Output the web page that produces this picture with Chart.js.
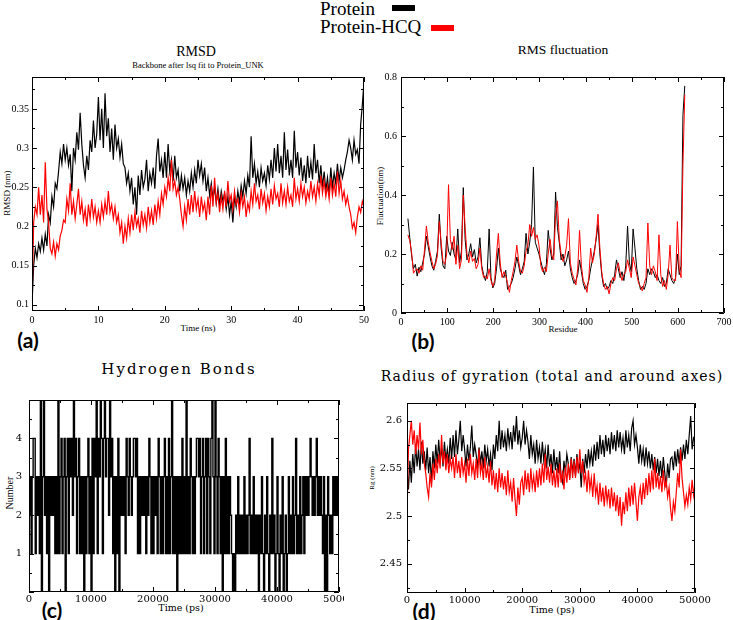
<!DOCTYPE html>
<html>
<head>
<meta charset="utf-8">
<script src="https://cdn.jsdelivr.net/npm/chart.js@4.4.1/dist/chart.umd.min.js"></script>
<style>
body { margin: 0; background: #fff; }
#page { position: relative; width: 733px; height: 620px; overflow: hidden; font-family: "Liberation Serif", serif; color: #000; }
.t { position: absolute; white-space: nowrap; line-height: 1; }
.c { transform: translate(-50%, -50%); }
.r { transform: translate(-50%, -50%) rotate(-90deg); }
.lab { font-family: Lato, sans-serif; font-weight: bold; font-size: 21px; }
canvas { position: absolute; }
</style>
</head>
<body>
<div id="page">
  <div class="t" style="left:320px;top:-1px;font-size:19px">Protein</div>
  <div class="t" style="left:320px;top:17px;font-size:19px">Protein-HCQ</div>
  <div style="position:absolute;left:392px;top:5px;width:23px;height:6px;background:#000"></div>
  <div style="position:absolute;left:431px;top:25px;width:23px;height:6px;background:#f00"></div>

  <div class="t c" style="left:196px;top:52px;font-size:14px">RMSD</div>
  <div class="t c" style="left:198px;top:65px;font-size:8.5px">Backbone after lsq fit to Protein_UNK</div>
  <div class="t c" style="left:198px;top:328px;font-size:9px">Time (ns)</div>
  <div class="t r" style="left:7px;top:193px;font-size:9px">RMSD (nm)</div>

  <div class="t c" style="left:563px;top:50px;font-size:13.5px">RMS fluctuation</div>
  <div class="t c" style="left:563px;top:329px;font-size:9px">Residue</div>
  <div class="t r" style="left:380px;top:196px;font-size:9px">Fluctuation(nm)</div>

  <div class="t c" style="left:179px;top:369px;font-size:15px;font-family:'DejaVu Serif',serif;letter-spacing:2px">Hydrogen Bonds</div>
  <div class="t c" style="left:181px;top:608px;font-size:9.5px;font-family:'DejaVu Serif',serif">Time (ps)</div>
  <div class="t r" style="left:10px;top:493px;font-size:10px">Number</div>

  <div class="t c" style="left:552px;top:376px;font-size:14px;font-family:'DejaVu Serif',serif;letter-spacing:1px">Radius of gyration (total and around axes)</div>
  <div class="t c" style="left:552px;top:610px;font-size:9.5px;font-family:'DejaVu Serif',serif">Time (ps)</div>
  <div class="t r" style="left:372px;top:478px;font-size:7px">Rg (nm)</div>

  <div class="t c lab" style="left:28px;top:339px">(a)</div>
  <div class="t c lab" style="left:423px;top:340px">(b)</div>
  <div class="t c lab" style="left:52px;top:609px">(c)</div>
  <div class="t c lab" style="left:424px;top:610px">(d)</div>
</div>
<script>
// (a) RMSD, one value every 0.25 ns
const rmsdStep = 0.25;
const rmsdProtein = [0.100,0.150,0.172,0.160, 0.178,0.168,0.185,0.170, 0.190,0.175,0.215,0.205, 0.238,0.225,0.255,0.248,
  0.270,0.295,0.280,0.305, 0.285,0.300,0.278,0.292, 0.245,0.300,0.285,0.320, 0.298,0.345,0.305,0.278,
  0.262,0.290,0.272,0.310, 0.295,0.335,0.300,0.318, 0.365,0.310,0.350,0.300, 0.370,0.315,0.338,0.295,
  0.325,0.285,0.330,0.300, 0.312,0.288,0.305,0.280, 0.275,0.255,0.268,0.245, 0.262,0.228,0.250,0.215,
  0.265,0.240,0.272,0.250, 0.260,0.285,0.245,0.268, 0.255,0.275,0.248,0.290, 0.312,0.270,0.285,0.262,
  0.295,0.262,0.305,0.270, 0.285,0.258,0.290,0.262, 0.272,0.245,0.265,0.248, 0.262,0.240,0.258,0.245,
  0.268,0.250,0.272,0.255, 0.285,0.265,0.280,0.258, 0.275,0.245,0.262,0.240, 0.255,0.235,0.250,0.230,
  0.248,0.228,0.245,0.232, 0.242,0.222,0.238,0.215, 0.232,0.205,0.238,0.225, 0.245,0.230,0.252,0.238,
  0.258,0.242,0.265,0.250, 0.315,0.262,0.280,0.255, 0.270,0.250,0.275,0.258, 0.268,0.252,0.278,0.260,
  0.285,0.262,0.300,0.270, 0.305,0.268,0.290,0.262, 0.320,0.272,0.298,0.265, 0.285,0.262,0.322,0.275,
  0.295,0.265,0.288,0.258, 0.278,0.255,0.290,0.262, 0.282,0.260,0.305,0.268, 0.285,0.255,0.278,0.250,
  0.270,0.245,0.262,0.240, 0.275,0.250,0.268,0.255, 0.280,0.258,0.275,0.262, 0.272,0.285,0.295,0.310,
  0.300,0.285,0.310,0.292, 0.298,0.280,0.330,0.355, 0.385];
const rmsdHCQ = [0.100,0.205,0.225,0.215, 0.250,0.215,0.240,0.205, 0.282,0.222,0.205,0.172, 0.165,0.180,0.162,0.178,
  0.170,0.188,0.195,0.208, 0.205,0.235,0.220,0.255, 0.215,0.232,0.210,0.228, 0.248,0.215,0.232,0.208,
  0.222,0.200,0.228,0.210, 0.235,0.212,0.225,0.205, 0.220,0.205,0.228,0.212, 0.232,0.215,0.245,0.218,
  0.228,0.210,0.225,0.205, 0.215,0.192,0.205,0.178, 0.200,0.185,0.210,0.192, 0.215,0.195,0.218,0.200,
  0.210,0.192,0.220,0.202, 0.215,0.198,0.225,0.205, 0.220,0.202,0.228,0.210, 0.232,0.215,0.242,0.228,
  0.250,0.238,0.262,0.245, 0.285,0.248,0.258,0.240, 0.250,0.235,0.215,0.200, 0.225,0.208,0.235,0.215,
  0.240,0.218,0.245,0.222, 0.235,0.212,0.238,0.220, 0.230,0.208,0.238,0.215, 0.252,0.225,0.262,0.230,
  0.242,0.218,0.238,0.222, 0.245,0.225,0.258,0.232, 0.240,0.222,0.245,0.228, 0.235,0.218,0.242,0.225,
  0.238,0.212,0.230,0.220, 0.245,0.228,0.255,0.232, 0.240,0.222,0.248,0.230, 0.242,0.220,0.238,0.225,
  0.248,0.228,0.252,0.235, 0.242,0.225,0.255,0.230, 0.245,0.228,0.250,0.232, 0.240,0.225,0.262,0.235,
  0.248,0.232,0.255,0.238, 0.250,0.230,0.245,0.235, 0.258,0.238,0.250,0.232, 0.255,0.240,0.265,0.242,
  0.258,0.238,0.252,0.235, 0.262,0.240,0.255,0.238, 0.270,0.242,0.258,0.235, 0.245,0.228,0.238,0.225,
  0.215,0.198,0.205,0.192, 0.212,0.225,0.218,0.232, 0.225];

// (b) RMS fluctuation, residue 15 onwards every 4 residues
const rmsfStart = 15, rmsfStep = 4;
const rmsfProtein = [0.320,0.255,0.195,0.150,0.165,0.125,0.155,0.140,0.170,0.200,
  0.260,0.225,0.190,0.160,0.145,0.175,0.210,0.335,0.220,0.160,
  0.150,0.260,0.210,0.195,0.240,0.200,0.180,0.285,0.170,0.210,
  0.425,0.250,0.180,0.200,0.235,0.190,0.215,0.170,0.190,0.255,
  0.160,0.130,0.110,0.140,0.285,0.120,0.085,0.100,0.150,0.220,
  0.150,0.130,0.120,0.145,0.080,0.090,0.100,0.120,0.150,0.190,
  0.160,0.130,0.150,0.175,0.270,0.200,0.240,0.300,0.495,0.240,
  0.220,0.200,0.175,0.150,0.130,0.165,0.280,0.220,0.180,0.200,
  0.410,0.290,0.240,0.180,0.200,0.160,0.180,0.210,0.150,0.120,
  0.100,0.110,0.130,0.180,0.140,0.100,0.080,0.090,0.110,0.150,
  0.180,0.210,0.250,0.300,0.200,0.130,0.090,0.100,0.080,0.090,
  0.110,0.100,0.130,0.180,0.150,0.120,0.140,0.110,0.160,0.295,
  0.170,0.140,0.285,0.220,0.150,0.110,0.080,0.090,0.080,0.100,
  0.150,0.130,0.150,0.140,0.120,0.130,0.110,0.100,0.120,0.090,
  0.100,0.150,0.130,0.110,0.100,0.120,0.200,0.130,0.160,0.670,
  0.770];
const rmsfHCQ = [0.265,0.245,0.205,0.135,0.145,0.150,0.135,0.160,0.145,0.215,
  0.295,0.240,0.205,0.175,0.150,0.165,0.195,0.310,0.240,0.175,
  0.165,0.200,0.435,0.250,0.215,0.260,0.165,0.230,0.150,0.180,
  0.400,0.290,0.200,0.170,0.210,0.175,0.185,0.150,0.165,0.220,
  0.150,0.120,0.125,0.115,0.150,0.110,0.090,0.110,0.200,0.270,
  0.170,0.120,0.140,0.125,0.100,0.070,0.110,0.140,0.175,0.230,
  0.175,0.140,0.135,0.160,0.210,0.230,0.300,0.260,0.290,0.250,
  0.265,0.230,0.160,0.140,0.155,0.140,0.200,0.250,0.195,0.180,
  0.330,0.380,0.250,0.200,0.175,0.190,0.230,0.320,0.170,0.135,
  0.115,0.095,0.150,0.280,0.160,0.110,0.095,0.070,0.120,0.220,
  0.170,0.200,0.260,0.335,0.220,0.140,0.100,0.080,0.090,0.065,
  0.100,0.120,0.110,0.150,0.170,0.135,0.110,0.130,0.140,0.180,
  0.150,0.120,0.190,0.160,0.130,0.100,0.090,0.075,0.100,0.120,
  0.305,0.160,0.130,0.160,0.140,0.110,0.265,0.130,0.090,0.110,
  0.080,0.130,0.230,0.120,0.110,0.110,0.310,0.150,0.120,0.500,
  0.740];

// (c) hydrogen bonds, 301 frames over 50000 ps
const hbSpan = 50000;
const hbonds = [2,3,1,3,4,4,1,3,2,3, 1,5,0,3,5,2,3,1,3,0, 3,2,3,2,3,1,3,1,5,1, 3,4,1,3,4,0,3,4,1,4,
  3,4,2,5,3,4,1,3,4,1, 3,1,3,0,3,1,3,4,1,3, 0,4,1,4,3,5,1,4,3,5, 4,1,4,5,3,4,4,2,5,3,
  4,1,3,0,3,1,4,0,3,2, 3,2,3,1,4,3,2,4,3,2, 3,4,4,3,4,1,3,1,3,2, 3,2,3,1,3,2,4,3,1,3,
  1,3,2,3,1,4,3,1,3,1, 3,4,1,3,1,4,1,3,5,1, 3,1,3,0,3,1,3,1,4,1, 3,1,5,1,3,1,4,3,1,3,
  1,3,4,4,3,4,1,3,4,1, 3,4,1,4,3,1,4,5,3,1, 5,3,1,4,3,1,3,0,3,1, 4,1,3,1,3,2,1,0,1,0,
  2,1,3,1,2,1,2,1,3,1, 2,1,2,4,1,2,1,3,1,2, 1,2,0,2,1,3,1,0,2,1, 3,1,0,2,1,4,1,2,0,1,
  3,1,0,2,1,3,0,1,2,0, 1,3,1,2,1,3,1,2,4,1, 2,1,3,1,2,3,1,3,2,3, 2,3,4,3,2,3,2,3,4,2,
  3,2,3,2,1,3,0,2,0,3, 2,1,2,1,3,2,3,2,3,2, 3];

// (d) radius of gyration, one value every 250 ps
const rgStep = 250;
const rgProtein = [2.550,2.528,2.558,2.535, 2.565,2.545,2.575,2.552, 2.570,2.548,2.578,2.555, 2.568,2.548,2.572,2.545,
  2.562,2.535,2.568,2.550, 2.575,2.555,2.580,2.558, 2.572,2.552,2.578,2.558, 2.570,2.555,2.582,2.560,
  2.585,2.562,2.590,2.565, 2.580,2.600,2.568,2.585, 2.570,2.552,2.575,2.558, 2.572,2.595,2.562,2.575,
  2.565,2.550,2.572,2.555, 2.568,2.550,2.575,2.558, 2.570,2.552,2.565,2.548, 2.575,2.560,2.585,2.568,
  2.600,2.570,2.590,2.572, 2.585,2.568,2.592,2.575, 2.588,2.570,2.595,2.578, 2.605,2.575,2.590,2.572,
  2.582,2.600,2.575,2.590, 2.578,2.560,2.585,2.565, 2.575,2.555,2.580,2.560, 2.572,2.555,2.578,2.558,
  2.570,2.550,2.575,2.552, 2.565,2.545,2.570,2.548, 2.562,2.545,2.568,2.540, 2.535,2.558,2.545,2.565,
  2.555,2.540,2.562,2.545, 2.560,2.542,2.565,2.548, 2.555,2.530,2.560,2.545, 2.565,2.550,2.570,2.555,
  2.568,2.552,2.575,2.558, 2.578,2.560,2.585,2.565, 2.580,2.562,2.585,2.568, 2.582,2.565,2.588,2.570,
  2.585,2.568,2.590,2.572, 2.588,2.570,2.582,2.565, 2.590,2.572,2.585,2.568, 2.592,2.600,2.575,2.585,
  2.572,2.555,2.575,2.558, 2.570,2.552,2.572,2.555, 2.568,2.550,2.565,2.548, 2.562,2.545,2.560,2.542,
  2.558,2.540,2.562,2.545, 2.530,2.555,2.540,2.560, 2.562,2.548,2.568,2.552, 2.570,2.555,2.572,2.558,
  2.575,2.560,2.580,2.565, 2.585,2.605,2.570,2.582, 2.580];
const rgHCQ = [2.500,2.570,2.585,2.600, 2.575,2.590,2.565,2.585, 2.570,2.598,2.565,2.580, 2.555,2.545,2.530,2.520,
  2.545,2.530,2.555,2.538, 2.560,2.545,2.565,2.550, 2.585,2.555,2.568,2.548, 2.565,2.545,2.560,2.550,
  2.562,2.540,2.565,2.545, 2.558,2.540,2.562,2.545, 2.555,2.535,2.560,2.542, 2.565,2.545,2.555,2.538,
  2.560,2.540,2.570,2.545, 2.555,2.538,2.562,2.540, 2.552,2.535,2.558,2.532, 2.548,2.528,2.545,2.525,
  2.550,2.530,2.545,2.528, 2.542,2.522,2.548,2.525, 2.535,2.515,2.540,2.518, 2.500,2.530,2.512,2.535,
  2.540,2.522,2.548,2.528, 2.545,2.525,2.550,2.530, 2.542,2.525,2.548,2.530, 2.550,2.532,2.555,2.535,
  2.565,2.538,2.552,2.535, 2.555,2.532,2.548,2.530, 2.550,2.530,2.555,2.535, 2.548,2.528,2.552,2.535,
  2.555,2.538,2.560,2.540, 2.558,2.540,2.562,2.545, 2.570,2.545,2.558,2.535, 2.545,2.525,2.548,2.528,
  2.540,2.520,2.545,2.522, 2.532,2.512,2.535,2.515, 2.530,2.510,2.532,2.515, 2.528,2.508,2.530,2.510,
  2.525,2.505,2.522,2.500, 2.520,2.490,2.515,2.502, 2.525,2.505,2.530,2.510, 2.532,2.512,2.535,2.515,
  2.495,2.520,2.530,2.512, 2.535,2.518,2.540,2.522, 2.545,2.525,2.548,2.528, 2.560,2.530,2.545,2.528,
  2.542,2.525,2.548,2.530, 2.538,2.520,2.530,2.508, 2.495,2.515,2.505,2.525, 2.545,2.530,2.570,2.540,
  2.525,2.510,2.522,2.512, 2.530,2.518,2.538,2.522, 2.535];

Chart.defaults.font.family = "Liberation Serif";
Chart.defaults.font.size = 10;
Chart.defaults.color = "#000";

// frame with inward ticks on all four sides, like the xmgrace plots
const frameTicks = {
  id: "frameTicks",
  afterDraw(chart, args, opts) {
    const ctx = chart.ctx, a = chart.chartArea;
    const x = chart.scales.x, y = chart.scales.y;
    ctx.save();
    ctx.strokeStyle = "#000";
    ctx.lineWidth = 1;
    ctx.beginPath();
    ctx.rect(a.left + 0.5, a.top + 0.5, a.right - a.left - 1, a.bottom - a.top - 1);
    const marks = (scale, major, minor, draw) => {
      const k0 = Math.ceil(scale.min / minor - 1e-6), k1 = Math.floor(scale.max / minor + 1e-6);
      for (let k = k0; k <= k1; k++) {
        const v = k * minor;
        const isMajor = Math.abs(v / major - Math.round(v / major)) < 1e-6;
        draw(Math.round(scale.getPixelForValue(v)) + 0.5, isMajor ? 5 : 3);
      }
    };
    marks(x, opts.xMajor, opts.xMinor, (p, len) => {
      ctx.moveTo(p, a.bottom); ctx.lineTo(p, a.bottom - len);
      ctx.moveTo(p, a.top); ctx.lineTo(p, a.top + len);
    });
    marks(y, opts.yMajor, opts.yMinor, (p, len) => {
      ctx.moveTo(a.left, p); ctx.lineTo(a.left + len, p);
      ctx.moveTo(a.right, p); ctx.lineTo(a.right - len, p);
    });
    ctx.stroke();
    ctx.restore();
  }
};
Chart.register(frameTicks);

const page = document.getElementById("page");

function addCanvas(frame, pad, clipWidth) {
  const c = document.createElement("canvas");
  const w = frame.r - frame.l + pad.l + pad.r;
  const h = frame.b - frame.t + pad.t + pad.b;
  c.width = w; c.height = h;
  c.style.left = (frame.l - pad.l) + "px";
  c.style.top = (frame.t - pad.t) + "px";
  c.style.width = w + "px";
  c.style.height = h + "px";
  let parent = page;
  if (clipWidth) {
    parent = document.createElement("div");
    parent.style.cssText = "position:absolute;left:0;top:0;height:620px;overflow:hidden;width:" + clipWidth + "px";
    page.appendChild(parent);
  }
  parent.appendChild(c);
  return c;
}

function plot(frame, pad, datasets, xOpt, yOpt, ticks, clipWidth) {
  const canvas = addCanvas(frame, pad, clipWidth);
  const axis = (o, fit) => Object.assign({
    type: "linear",
    grid: { display: false, drawTicks: false, tickLength: 0 },
    border: { display: false },
    afterFit: fit
  }, o);
  return new Chart(canvas, {
    type: "line",
    data: { datasets: datasets },
    options: {
      responsive: false,
      animation: false,
      events: [],
      layout: { padding: { left: 0, top: pad.t, right: pad.r, bottom: 0 } },
      elements: { point: { radius: 0 }, line: { borderWidth: 1.2, tension: 0 } },
      plugins: { legend: { display: false }, tooltip: { enabled: false }, frameTicks: ticks },
      scales: {
        x: axis(xOpt, s => { s.height = pad.b; }),
        y: axis(yOpt, s => { s.width = pad.l; })
      }
    }
  });
}

const series = (vals, x0, dx) => vals.map((v, i) => ({ x: x0 + i * dx, y: v }));
const plain = v => String(Math.round(v * 1000) / 1000);

// (a)
plot({ l: 32, t: 76, r: 364, b: 311 }, { l: 32, t: 8, r: 10, b: 20 },
  [
    { data: series(rmsdProtein, 0, rmsdStep), borderColor: "#000", order: 2 },
    { data: series(rmsdHCQ, 0, rmsdStep), borderColor: "#f00", order: 1 }
  ],
  { min: 0, max: 50, ticks: { stepSize: 10, padding: 3, callback: plain } },
  { min: 0.092, max: 0.3907, ticks: { stepSize: 0.05, includeBounds: false, padding: 3, callback: plain } },
  { xMajor: 10, xMinor: 5, yMajor: 0.05, yMinor: 0.025 });

// (b)
plot({ l: 401, t: 75, r: 724, b: 313 }, { l: 30, t: 8, r: 12, b: 16 },
  [
    { data: series(rmsfProtein, rmsfStart, rmsfStep), borderColor: "#000", borderWidth: 1, order: 2 },
    { data: series(rmsfHCQ, rmsfStart, rmsfStep), borderColor: "#f00", borderWidth: 1, order: 1 }
  ],
  { min: 0, max: 700, ticks: { stepSize: 100, padding: 3, callback: plain } },
  { min: 0, max: 0.8, ticks: { stepSize: 0.2, padding: 4, callback: plain } },
  { xMajor: 100, xMinor: 50, yMajor: 0.2, yMinor: 0.1 });

// (c)
const serifWide = { family: "DejaVu Serif", size: 10 };
plot({ l: 29, t: 395, r: 339, b: 592 }, { l: 29, t: 8, r: 18, b: 14 },
  [
    { data: series(hbonds, 0, hbSpan / (hbonds.length - 1)), borderColor: "#000", borderWidth: 1.4, stepped: "before" }
  ],
  { min: 0, max: 50000, ticks: { stepSize: 10000, padding: 1, font: serifWide, callback: plain } },
  { min: 0, max: 5, ticks: { stepSize: 1, padding: 7, font: serifWide, callback: v => (v > 0 && v < 5 ? plain(v) : "") } },
  { xMajor: 10000, xMinor: 5000, yMajor: 1, yMinor: 0.5 }, 344);

// (d)
plot({ l: 407, t: 400, r: 695, b: 593 }, { l: 35, t: 8, r: 18, b: 14 },
  [
    { data: series(rgProtein, 0, rgStep), borderColor: "#000", order: 2 },
    { data: series(rgHCQ, 0, rgStep), borderColor: "#f00", order: 1 }
  ],
  { min: 0, max: 50000, ticks: { stepSize: 10000, padding: 1, font: serifWide, callback: plain } },
  { min: 2.4193, max: 2.6186, ticks: { stepSize: 0.05, includeBounds: false, padding: 5, font: serifWide, callback: plain } },
  { xMajor: 10000, xMinor: 5000, yMajor: 0.05, yMinor: 0.025 });
</script>
</body>
</html>
